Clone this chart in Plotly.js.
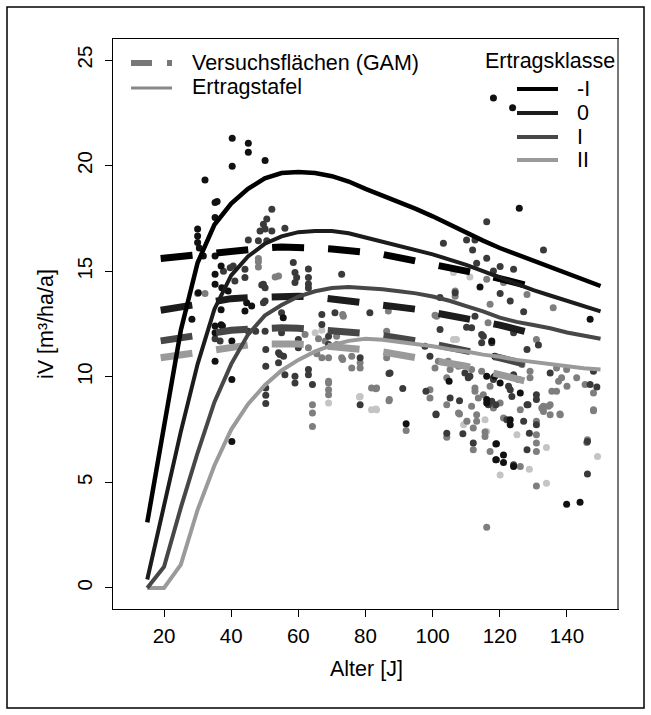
<!DOCTYPE html>
<html><head><meta charset="utf-8">
<script src="https://cdn.plot.ly/plotly-3.0.1.min.js"></script>
<style>html,body{margin:0;padding:0;background:#fff;} #chart{width:651px;height:715px;}</style>
</head><body><div id="chart"></div>
<script>
// ---------- data ----------
const ages = [15,20,25,30,35,40,45,50,55,60,65,70,75,80,85,90,95,100,105,110,115,120,125,130,135,140,145,150];
const etMinusI = [3.1,7.6,12.2,15.4,17.2,18.2,18.9,19.4,19.65,19.7,19.65,19.5,19.25,18.9,18.6,18.3,17.95,17.6,17.2,16.8,16.45,16.1,15.8,15.5,15.2,14.9,14.6,14.3];
const et0 = [0.4,4.0,7.4,10.6,13.2,14.8,15.7,16.3,16.65,16.85,16.9,16.9,16.8,16.6,16.4,16.2,16.0,15.8,15.55,15.3,15.0,14.7,14.4,14.1,13.85,13.6,13.35,13.1];
const etI = [0,1.0,3.8,6.4,8.8,10.6,12.0,12.9,13.4,13.8,14.05,14.2,14.25,14.22,14.15,14.05,13.95,13.8,13.6,13.35,13.1,12.8,12.6,12.45,12.3,12.1,11.95,11.8];
const etII = [0,0,1.1,3.7,5.8,7.5,8.7,9.6,10.3,10.8,11.2,11.5,11.7,11.8,11.75,11.65,11.55,11.45,11.3,11.2,11.05,10.95,10.8,10.7,10.6,10.5,10.4,10.35];

const gamAge = [19,25,30,35,40,45,50,55,60,65,70,75,80,85,90,95,100,105,110,115,120,125,130];
const gamMinusI = [15.6,15.7,15.8,15.9,15.95,16.05,16.1,16.15,16.15,16.1,16.05,16.0,15.9,15.8,15.65,15.5,15.35,15.2,15.05,14.85,14.65,14.45,14.25];
const gam0 = [13.15,13.3,13.45,13.6,13.7,13.75,13.8,13.82,13.82,13.78,13.7,13.6,13.5,13.4,13.3,13.2,13.05,12.9,12.8,12.65,12.45,12.25,12.05];
const gamI = [11.7,11.85,12.0,12.1,12.2,12.25,12.3,12.32,12.3,12.25,12.2,12.13,12.05,11.95,11.85,11.7,11.55,11.4,11.25,11.1,10.9,10.7,10.5];
const gamII = [10.9,11.05,11.2,11.3,11.4,11.5,11.55,11.57,11.55,11.5,11.45,11.37,11.28,11.18,11.05,10.95,10.8,10.65,10.5,10.3,10.1,9.9,9.7];

const ptsBlack = [[40.3,21.3],[45.1,21.06],[45.1,20.64],[40.3,19.97],[50.1,20.24],[32.2,19.32],[35.2,18.26],[35.8,18.3],[35.2,17.55],[30.0,17.0],[30.0,16.67],[30.0,16.36],[30.5,16.1],[35.2,15.72],[31.7,15.72],[37.0,15.25],[35.2,14.86],[35.2,14.38],[37.2,14.22],[39.1,14.06],[28.3,12.72],[37.0,13.18],[37.0,12.47],[46.1,13.35],[35.2,12.4],[35.2,12.09],[37.4,12.4],[40.2,11.69],[35.2,10.74],[40.2,9.87],[40.2,6.94],[44.1,13.11],[44.6,13.51],[30.2,13.98],[118.1,23.2],[123.8,22.74],[125.8,17.98],[114.1,14.25],[146.9,12.72],[92.1,7.78],[104.9,9.79],[116.1,8.92],[116.1,8.76],[118.8,6.07],[120.1,9.71],[121.1,6.3],[121.1,5.94],[123.1,7.97],[123.1,7.73],[124.1,5.75],[126.1,9.23],[139.9,3.96],[143.9,4.06],[118.5,10.97],[118.5,10.02],[116.1,10.02],[119.0,6.83],[117.6,11.69],[55.5,12.8]];
const ptsDark = [[52.1,17.94],[49.6,17.23],[50.6,17.47],[48.6,16.9],[50.1,17.0],[52.1,16.9],[48.1,16.44],[50.6,16.44],[45.1,16.48],[56.0,17.03],[39.7,15.17],[40.6,15.25],[37.7,15.0],[44.1,15.09],[44.1,14.7],[41.1,14.54],[49.1,14.35],[50.1,14.22],[58.5,15.41],[59,14.94],[59.5,14.7],[59,14.46],[63,15.1],[63,14.7],[63,14.4],[63,14.2],[72.9,14.86],[50.1,13.59],[67,12.95],[67,12.48],[70.9,13.03],[81.3,13.03],[35.2,11.8],[45.1,12.16],[47.3,12.16],[50.1,12.16],[50.3,11.29],[50.3,10.5],[50.3,9.47],[50.3,9.12],[50.3,8.73],[54.1,11.14],[55.6,10.97],[54.1,10.66],[56.0,10.1],[59.0,10.02],[59.0,9.71],[60.0,11.77],[60.0,11.37],[63.0,10.34],[63.0,10.1],[64.2,9.63],[69,11.92],[69,11.53],[78.4,10.9],[78.4,8.68],[49.6,14.38],[49.6,13.51],[55,13.03],[55,12.09],[54.5,11.05],[36.7,11.69],[87.0,10.15],[91.1,9.44],[97.7,11.45],[99.2,10.97],[101.0,8.24],[102.2,12.24],[105.2,9.0],[108.0,8.87],[109.0,7.3],[110.6,9.95],[112.1,6.86],[114.6,12.0],[118.1,9.95],[117.6,11.61],[118.8,6.81],[122.6,9.55],[123.6,9.07],[127.1,7.89],[128.1,11.29],[128.4,8.68],[128.1,6.54],[128.8,7.33],[130.9,9.15],[130.9,8.92],[130.9,7.73],[146.1,6.94],[146.1,5.4],[146.9,9.63],[148.9,9.52],[147.9,10.26],[116.1,17.34],[103.2,16.33],[110.1,16.48],[112.6,16.48],[111.9,16.01],[116.1,15.62],[113.1,15.38],[120.1,15.22],[124.1,15.09],[118.1,15.01],[133,16.0],[120.1,13.95],[123.1,13.59],[127.1,13.08],[102.2,13.75],[112.6,12.87],[106.7,13.98],[110.1,12.35],[115.1,11.92],[124.1,12.09],[87.3,10.18],[98.0,9.31],[101,8.2],[104.2,7.33],[119,6.07],[124.1,5.83],[135,10.18],[111.6,12.32],[114.6,11.61],[123.1,9.39],[125.6,9.87],[124.1,10.1],[109.6,10.18],[111.1,10.02],[117.6,8.84],[118.8,8.68],[122.1,7.97],[128.1,8.68],[131.5,11.5],[118.1,9.87],[116.6,8.68]];
const ptsGray = [[48.1,15.2],[48.1,15.45],[48.1,15.6],[53.1,14.73],[54.1,14.77],[30.0,13.95],[32.2,13.95],[63,11.37],[65.5,11.09],[67,10.9],[69,10.9],[71.4,11.92],[71.4,11.53],[72.9,10.9],[75.9,10.97],[75.9,10.42],[78.4,10.66],[78.4,10.42],[81.8,9.47],[69,9.39],[69,9.71],[69,9.15],[69,9.79],[64.2,8.68],[64.2,8.28],[64.2,7.65],[86.3,12.16],[86.3,10.9],[83.3,9.47],[87.0,8.87],[92.1,7.46],[99.2,9.39],[99.2,9.0],[101.7,10.74],[104.2,9.95],[104.2,8.68],[104.2,7.13],[108,8.24],[110.2,7.89],[111.6,10.34],[112.6,9.47],[112.6,9.31],[113.1,8.2],[113.1,7.89],[112.1,7.57],[112.1,6.54],[114.6,10.26],[115.1,9.15],[115.6,7.38],[115.6,7.17],[117.1,6.46],[118.1,8.52],[121.1,8.05],[126.1,8.44],[126.1,5.75],[130.9,7.89],[130.9,7.25],[130.9,6.86],[130.9,6.46],[130.9,4.83],[132.9,8.44],[135,8.68],[135,8.2],[135.5,9.31],[137.9,8.24],[136.9,10.42],[139.9,10.34],[142.9,9.95],[146.1,7.02],[147.9,9.23],[147.9,8.39],[116.1,2.87],[86.8,13.11],[100.7,12.91],[117.1,13.43],[128.1,13.9],[135.9,13.27],[116.1,14.62],[121.1,14.46],[106.7,14.06],[106.7,13.82],[101.2,12.87],[73.2,12.95],[116.5,12.56],[130.9,11.77],[137.5,9.79],[140,9.55],[73.2,10.82],[83.1,9.43],[87.1,8.92],[145.9,6.89],[147.9,8.44],[133,8.6],[133,8.36],[117.1,9.55],[126.6,10.58],[129,10.26],[129,9.95],[107.7,10.5],[104.6,10.74],[100.7,10.42],[111.6,8.6],[113.6,9.0],[134.5,8.6],[138,8.2],[120.1,8.76],[73.4,12.87],[66,11.8],[68,11.7],[62,12.0],[105.2,10.34],[107.7,8.28],[132.5,8.52],[136.9,9.31],[138.4,9.95],[145.4,9.63]];
const ptsLight = [[65,12.09],[67,12.2],[69,8.76],[78.4,9.07],[81.8,8.44],[83.3,8.44],[106.2,11.77],[109.2,7.73],[115.6,7.97],[120.1,5.35],[125.1,7.25],[128.8,5.62],[133.9,6.65],[133.9,4.96],[149.1,6.22],[106.2,14.94],[111.1,14.73],[107.1,11.77],[116.1,7.41],[110.2,7.89],[83.1,8.47],[78.2,9.04]];

const xTicks = [20,40,60,80,100,120,140];
const yTicks = [0,5,10,15,20,25];
const klassen = ['-I','0','I','II'];
const klassenFarben = ['#000000','#1c1c1c','#474747','#9a9a9a'];

// ---------- traces ----------
const FONT = '"Liberation Sans", Arial, Helvetica, sans-serif';
function pts(p, color){
  return {type:'scatter', mode:'markers', x:p.map(d=>d[0]), y:p.map(d=>d[1]),
    marker:{color:color, size:7, line:{width:0}}, hoverinfo:'skip', showlegend:false};
}
function line(x, y, color, width, dash){
  return {type:'scatter', mode:'lines', x:x, y:y,
    line:{color:color, width:width, dash:dash||'solid'}, hoverinfo:'skip', showlegend:false};
}
const traces = [
  pts(ptsLight,'#c4c4c4'),
  pts(ptsGray,'#7e7e7e'),
  pts(ptsDark,'#3a3a3a'),
  pts(ptsBlack,'#111111'),
  line(gamAge, gamII, klassenFarben[3], 7, '32px,24px'),
  line(gamAge, gamI, klassenFarben[2], 7, '32px,24px'),
  line(gamAge, gam0, klassenFarben[1], 7, '32px,24px'),
  line(gamAge, gamMinusI, klassenFarben[0], 7, '32px,24px'),
  line(ages, etII, klassenFarben[3], 4),
  line(ages, etI, klassenFarben[2], 4),
  line(ages, et0, klassenFarben[1], 4),
  line(ages, etMinusI, klassenFarben[0], 4.5)
];

// ---------- layout helpers (pixel -> paper) ----------
const L = 113, R = 618, T = 39, B = 609;
const px = v => (v - L) / (R - L);
const py = v => (B - v) / (B - T);
const TXT = 21.5;

const annotations = [
  {text:'Alter [J]', x:px(366), y:py(669)},
  {text:'iV [m³/ha/a]', x:px(46), y:0.5, textangle:-90},
  {text:'Versuchsflächen (GAM)', x:px(190), y:py(63), xanchor:'left'},
  {text:'Ertragstafel', x:px(190), y:py(87), xanchor:'left'},
  {text:'Ertragsklasse', x:px(550), y:py(61)}
].map(a => Object.assign({xref:'paper', yref:'paper', showarrow:false, xanchor:'center', yanchor:'middle', font:{size:TXT, family:FONT, color:'#000'}}, a));
const legY = [89,113,137,160];
klassen.forEach((k,i)=>{
  annotations.push({text:k, xref:'paper', yref:'paper', x:px(575), y:py(legY[i]), xanchor:'left', yanchor:'middle', showarrow:false, font:{size:TXT, family:FONT, color:'#000'}});
});

const shapes = [
  {type:'rect', xref:'paper', yref:'paper', x0:px(7), x1:px(644), y0:py(708), y1:py(7), line:{color:'#000', width:1.5}},
  {type:'line', xref:'paper', yref:'paper', x0:1, x1:1, y0:0, y1:1, line:{color:'#777', width:2}},
  {type:'line', xref:'paper', yref:'paper', x0:px(131), x1:px(172), y0:py(63), y1:py(63), line:{color:'#777', width:6, dash:'21px,15px'}},
  {type:'line', xref:'paper', yref:'paper', x0:px(131), x1:px(172), y0:py(88), y1:py(88), line:{color:'#888', width:3}}
];
klassen.forEach((k,i)=>{
  shapes.push({type:'line', xref:'paper', yref:'paper', x0:px(517), x1:px(558), y0:py(legY[i]), y1:py(legY[i]), line:{color:klassenFarben[i], width:4}});
});

const axisCommon = {ticks:'outside', ticklen:7, tickwidth:1, tickcolor:'#000', showline:true, mirror:true,
  linecolor:'#000', linewidth:1, showgrid:false, zeroline:false, tickfont:{size:20.5, family:FONT, color:'#000'}};

const layout = {
  width:651, height:715,
  margin:{l:L, r:651-R, t:T, b:715-B, pad:0},
  paper_bgcolor:'#fff', plot_bgcolor:'#fff',
  showlegend:false,
  font:{family:FONT, color:'#000', size:20},
  xaxis:Object.assign({}, axisCommon, {range:[4.8,155.2], tickmode:'array', tickvals:xTicks, ticktext:xTicks.map(String), ticklabelstandoff:1}),
  yaxis:Object.assign({}, axisCommon, {range:[-1,26], tickmode:'array', tickvals:yTicks, ticktext:yTicks.map(String), tickangle:-90, ticklabelstandoff:5}),
  annotations:annotations,
  shapes:shapes
};

Plotly.newPlot('chart', traces, layout, {staticPlot:true, displayModeBar:false});
</script>
</body></html>
